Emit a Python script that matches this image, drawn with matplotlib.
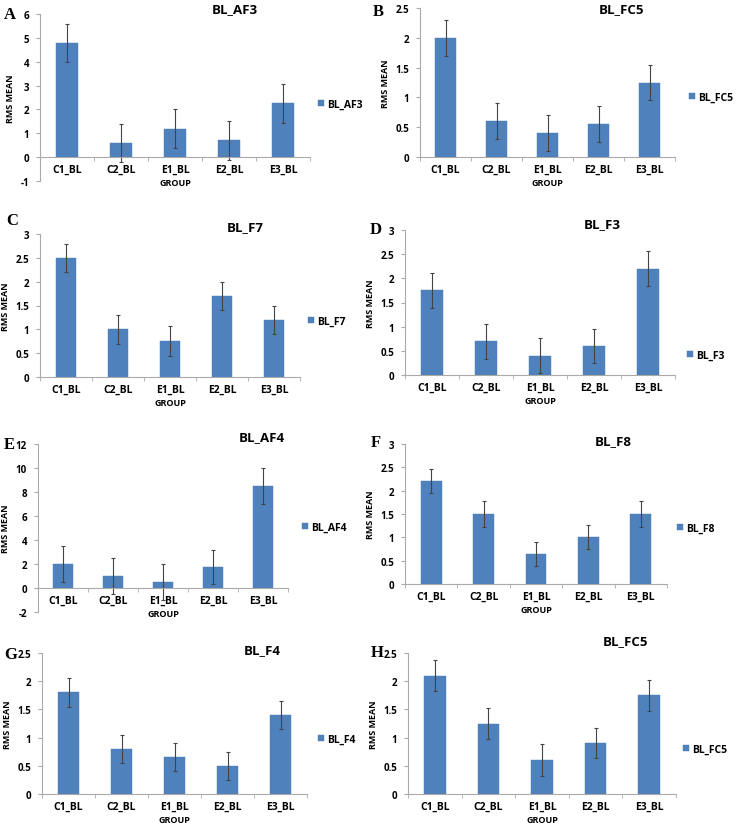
import matplotlib
matplotlib.use("Agg")
import matplotlib.pyplot as plt
import numpy as np

plt.rcParams['font.family'] = ['Open Sans', 'DejaVu Sans']

groups = ['C1_BL', 'C2_BL', 'E1_BL', 'E2_BL', 'E3_BL']

bl_af3 = [4.8, 0.6, 1.2, 0.7, 2.25]
bl_af3_err = [0.8, 0.8, 0.8, 0.8, 0.8]
bl_fc5_b = [2.0, 0.6, 0.4, 0.55, 1.25]
bl_fc5_b_err = [0.3, 0.3, 0.3, 0.3, 0.3]
bl_f7 = [2.5, 1.0, 0.75, 1.7, 1.2]
bl_f7_err = [0.3, 0.3, 0.31, 0.3, 0.3]
bl_f3 = [1.75, 0.7, 0.4, 0.6, 2.2]
bl_f3_err = [0.36, 0.36, 0.36, 0.36, 0.36]
bl_af4 = [2.0, 1.0, 0.5, 1.75, 8.5]
bl_af4_err = [1.5, 1.5, 1.5, 1.45, 1.5]
bl_f8 = [2.2, 1.5, 0.65, 1.0, 1.5]
bl_f8_err = [0.26, 0.27, 0.26, 0.26, 0.27]
bl_f4 = [1.8, 0.8, 0.65, 0.5, 1.4]
bl_f4_err = [0.25, 0.25, 0.25, 0.25, 0.25]
bl_fc5_h = [2.1, 1.25, 0.6, 0.9, 1.75]
bl_fc5_h_err = [0.27, 0.27, 0.28, 0.27, 0.27]

W, H = 738, 829
fig = plt.figure(figsize=(W / 100, H / 100), dpi=100)

BAR = '#4f81bd'


def panel(letter, title, vals, errs, ylim, ystep, box, title_xy, letter_xy, leg_xy):
    # box = (left, top, width, bottom) in pixels
    l, t, w, b = box
    ax = fig.add_axes([l / W, 1 - b / H, w / W, (b - t) / H])
    # spine position first: it resets the tick objects
    for s in ['top', 'right']:
        ax.spines[s].set_visible(False)
    ax.spines['left'].set_color('#aaaaaa')
    ax.spines['bottom'].set_color('#aaaaaa')
    ax.spines['bottom'].set_position(('data', 0))

    x = np.arange(len(groups))
    ax.bar(x, vals, width=0.4, color=BAR, edgecolor='#4a7ab5', linewidth=0.3, label=title,
           yerr=errs, error_kw=dict(ecolor='#444444', elinewidth=0.8, capsize=1.5, capthick=0.8))
    ax.set_xlim(-0.5, len(groups) - 0.5)
    ax.set_ylim(*ylim)
    ax.set_yticks(np.arange(ylim[0], ylim[1] + ystep / 2, ystep))
    ax.yaxis.set_major_formatter(matplotlib.ticker.FuncFormatter(lambda v, p: ('%g' % v)))
    ax.set_xticks(x)
    ax.set_xticks(np.arange(-0.5, len(groups)), minor=True)
    ax.set_xticklabels(groups)
    ax.tick_params(axis='x', which='major', length=0, pad=5, labelsize=7.5)
    ax.tick_params(axis='x', which='minor', length=3, color='#aaaaaa', direction='out')
    ax.tick_params(axis='y', length=3, color='#aaaaaa', labelsize=7, pad=5)
    for lab in ax.get_yticklabels() + ax.get_xticklabels():
        lab.set_fontweight('bold')
    ax.set_xlabel('GROUP', fontsize=6.5, fontweight='bold', labelpad=2)
    ax.set_ylabel('RMS MEAN', fontsize=6.5, fontweight='bold', labelpad=4)
    fig.text(title_xy[0] / W, 1 - title_xy[1] / H, title, fontsize=9.5, fontweight='bold',
             ha='center', va='center')
    fig.text(letter_xy[0] / W, 1 - letter_xy[1] / H, letter, fontsize=12, fontweight='bold',
             family='Liberation Serif', ha='left', va='center')
    ax.legend(loc='center left', bbox_to_anchor=(leg_xy[0] / W, 1 - leg_xy[1] / H),
              bbox_transform=fig.transFigure, frameon=False,
              prop=dict(size=7.5, weight='bold'),
              handlelength=0.6, handleheight=0.6, handletextpad=0.3, borderpad=0,
              borderaxespad=0)
    return ax


panel('A', 'BL_AF3', bl_af3, bl_af3_err, (-1, 6), 1, (40, 15, 270, 182),
      (235, 10), (4, 15), (318, 105))
panel('B', 'BL_FC5', bl_fc5_b, bl_fc5_b_err, (0, 2.5), 0.5, (420, 9, 255, 158),
      (622, 10), (373, 12), (689, 98))
panel('C', 'BL_F7', bl_f7, bl_f7_err, (0, 3), 0.5, (40, 235, 260, 378),
      (245, 228), (6, 221), (308, 322))
panel('D', 'BL_F3', bl_f3, bl_f3_err, (0, 3), 0.5, (405, 231, 270, 376),
      (602, 225), (370, 230), (687, 356))
panel('E', 'BL_AF4', bl_af4, bl_af4_err, (-2, 12), 2, (38, 445, 250, 613),
      (262, 438), (4, 445), (302, 528))
panel('F', 'BL_F8', bl_f8, bl_f8_err, (0, 3), 0.5, (405, 445, 262, 585),
      (613, 442), (371, 443), (677, 529))
panel('G', 'BL_F4', bl_f4, bl_f4_err, (0, 2.5), 0.5, (42, 654, 265, 795),
      (262, 651), (4, 655), (318, 740))
panel('H', 'BL_FC5', bl_fc5_h, bl_fc5_h_err, (0, 2.5), 0.5, (408, 654, 268, 795),
      (626, 642), (371, 653), (683, 750))

fig.savefig('out.png', dpi=100)
